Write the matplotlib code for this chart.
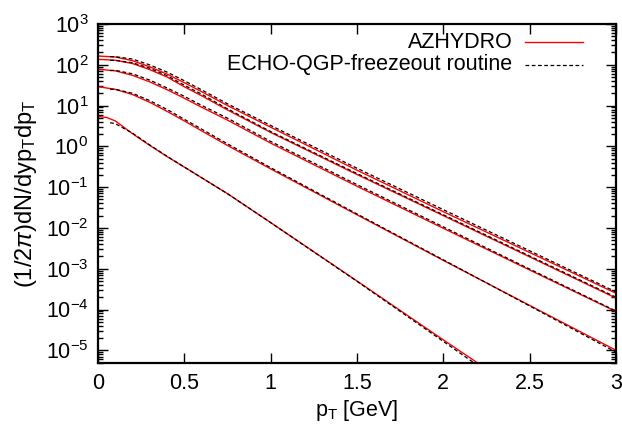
import matplotlib
matplotlib.use("Agg")
import matplotlib.pyplot as plt
from matplotlib.ticker import FixedLocator, LogLocator, LogFormatterMathtext, MultipleLocator, NullFormatter

plt.rcParams['font.family'] = ['Liberation Sans', 'DejaVu Sans']
plt.rcParams['mathtext.fontset'] = 'custom'
plt.rcParams['mathtext.rm'] = 'Liberation Sans'
plt.rcParams['mathtext.it'] = 'Liberation Sans:italic'

# AZHYDRO spectra (red, solid)
pt_azhydro = [0.0, 0.1, 0.2, 0.3, 0.4, 0.5, 0.6, 0.75, 1.0, 1.5, 2.0, 2.5, 3.0]
azhydro_a = [164, 155, 126, 89, 59, 36.3, 21.9, 10.0, 2.95, 0.26, 0.025, 2.5e-3, 2.5e-4]
azhydro_b = [136, 129, 107, 76, 50, 28.8, 17.4, 7.8, 2.19, 0.204, 0.020, 1.95e-3, 1.9e-4]
azhydro_c = [78, 71, 55, 38, 24.5, 15.1, 9.1, 4.4, 1.2, 0.105, 9.8e-3, 9.3e-4, 8.9e-5]
azhydro_d = [29, 25, 18.6, 12.0, 7.2, 4.2, 2.4, 1.05, 0.28, 0.021, 1.6e-3, 1.26e-4, 1.0e-5]
pt_azhydro_e = [0.0, 0.05, 0.1, 0.2, 0.3, 0.4, 0.5, 0.75, 1.0, 1.5, 2.0, 2.25]
azhydro_e = [5.4, 5.1, 4.2, 2.04, 1.05, 0.56, 0.31, 0.069, 0.0135, 5.0e-4, 1.8e-5, 3.5e-6]

# ECHO-QGP freezeout routine spectra (black, dashed)
pt_echo = [0.07, 0.1, 0.2, 0.3, 0.4, 0.5, 0.6, 0.75, 1.0, 1.5, 2.0, 2.5, 3.0]
echo_a = [158, 158, 138, 99, 66, 40.5, 24.3, 11.0, 3.25, 0.29, 0.028, 2.75e-3, 2.7e-4]
echo_b = [128, 128, 112, 82, 54, 31.5, 19.0, 8.3, 2.3, 0.215, 0.021, 2.05e-3, 2.0e-4]
echo_c = [72, 73, 60, 42, 27, 16.8, 10.1, 4.9, 1.32, 0.115, 0.0106, 9.8e-4, 9.2e-5]
echo_d = [25, 25, 20, 13.2, 8.0, 4.6, 2.65, 1.15, 0.30, 0.022, 1.65e-3, 1.22e-4, 9.0e-6]
pt_echo_e = [0.07, 0.1, 0.2, 0.3, 0.4, 0.5, 0.75, 1.0, 1.5, 2.0, 2.25]
echo_e = [3.8, 3.6, 2.1, 1.08, 0.57, 0.31, 0.069, 0.0135, 4.9e-4, 1.65e-5, 3.0e-6]

y_ticks = [1e-5, 1e-4, 1e-3, 1e-2, 1e-1, 1e0, 1e1, 1e2, 1e3]

fig = plt.figure(figsize=(6.22, 4.28), dpi=100)
ax = fig.add_axes([0.1576, 0.152, 0.8328, 0.792])

red_curves = [(pt_azhydro, azhydro_a), (pt_azhydro, azhydro_b), (pt_azhydro, azhydro_c),
              (pt_azhydro, azhydro_d), (pt_azhydro_e, azhydro_e)]
black_curves = [(pt_echo, echo_a), (pt_echo, echo_b), (pt_echo, echo_c),
                (pt_echo, echo_d), (pt_echo_e, echo_e)]

for x, y in red_curves:
    ax.plot(x, y, color='#ff0000', lw=1.0, zorder=2)
for x, y in black_curves:
    ax.plot(x, y, color='black', lw=0.9, ls=(0, (3, 2)), zorder=3)

ax.set_yscale('log')
ax.set_xlim(0, 3)
ax.set_ylim(4.9e-6, 1e3)

ax.xaxis.set_major_locator(MultipleLocator(0.5))
ax.xaxis.set_major_formatter(plt.FuncFormatter(lambda v, p: f'{v:g}'))
ax.yaxis.set_major_locator(FixedLocator(y_ticks))
ax.yaxis.set_major_formatter(LogFormatterMathtext())
ax.yaxis.set_minor_locator(LogLocator(base=10, subs=range(2, 10), numticks=20))
ax.yaxis.set_minor_formatter(NullFormatter())

ax.tick_params(which='both', direction='in', top=True, right=True, labelsize=15.5, width=1.0)
ax.tick_params(which='major', length=7, pad=7)
ax.tick_params(which='minor', length=3.5)
for s in ax.spines.values():
    s.set_linewidth(1.6)

ax.set_xlabel(r'p$_\mathrm{T}$ [GeV]', fontsize=15.5, labelpad=3)
ax.set_ylabel(r'(1/2$\pi$)dN/dyp$_\mathrm{T}$dp$_\mathrm{T}$', fontsize=17, labelpad=5)

# gnuplot-style key: right-justified text, sample line to the right
ax.text(0.80, 0.946, 'AZHYDRO', transform=ax.transAxes, ha='right', va='center', fontsize=15.5)
ax.text(0.80, 0.880, 'ECHO-QGP-freezeout routine', transform=ax.transAxes, ha='right', va='center', fontsize=15.5)
ax.plot([0.825, 0.937], [0.946, 0.946], transform=ax.transAxes, color='#ff0000', lw=1.0)
ax.plot([0.825, 0.937], [0.880, 0.880], transform=ax.transAxes, color='black', lw=0.9, ls=(0, (3, 2)))

fig.savefig('out.png', dpi=100)
